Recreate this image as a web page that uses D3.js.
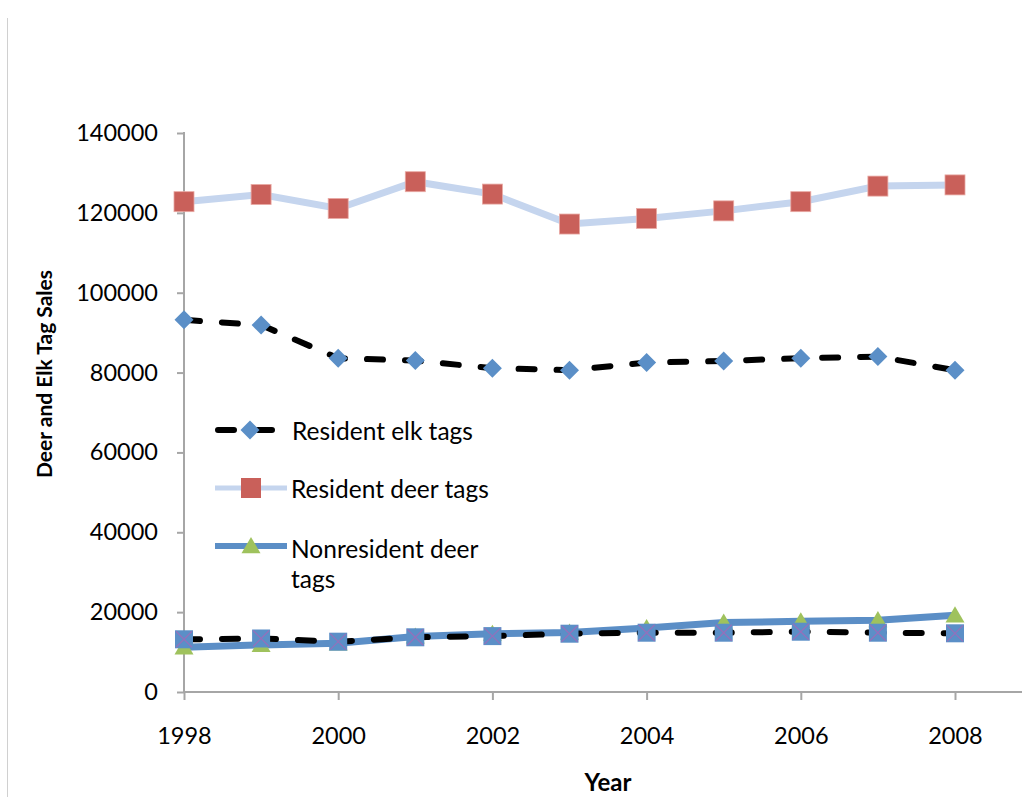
<!DOCTYPE html>
<html>
<head>
<meta charset="utf-8">
<script src="https://cdn.jsdelivr.net/npm/d3@7/dist/d3.min.js"></script>
<style>
  html, body { margin: 0; padding: 0; background: #fff; }
  svg { display: block; }
  text { font-family: Lato, "Open Sans", sans-serif; fill: #000; }
</style>
</head>
<body>
<svg id="chart" width="1022" height="797"></svg>
<script>
const years = [1998, 1999, 2000, 2001, 2002, 2003, 2004, 2005, 2006, 2007, 2008];
const residentElk  = [93200, 91900, 83600, 83000, 81100, 80600, 82500, 82900, 83600, 84000, 80600];
const residentDeer = [122800, 124600, 121100, 127800, 124700, 117200, 118600, 120500, 122800, 126700, 127000];
const nonresDeer   = [11200, 11800, 12200, 13900, 14600, 14900, 16000, 17400, 17700, 18000, 19200];
const nonresElk    = [13200, 13400, 12600, 13700, 14000, 14600, 14850, 14850, 15100, 14850, 14700];
const yTicks = [0, 20000, 40000, 60000, 80000, 100000, 120000, 140000];
const xTicks = [1998, 2000, 2002, 2004, 2006, 2008];
const legendLabels = ["Resident elk tags", "Resident deer tags", ["Nonresident deer", "tags"]];
const yTitle = "Deer and Elk Tag Sales";
const xTitle = "Year";

const svg = d3.select("#chart");
const W = 1022;
const x = d3.scaleLinear().domain([1998, 2008]).range([184, 955]);
const y = d3.scaleLinear().domain([0, 140000]).range([692, 133]);

// left border line of the frame
svg.append("line").attr("x1", 7.5).attr("x2", 7.5).attr("y1", 18).attr("y2", 797)
  .attr("stroke", "#d0d0d0").attr("stroke-width", 1);

const axisColor = "#a6a6a6";
const tickFont = 23.5;

// Y axis
const yAxis = svg.append("g").attr("transform", `translate(${x(1998)},0)`)
  .call(d3.axisLeft(y).tickValues(yTicks).tickSize(7).tickSizeOuter(0).tickPadding(19).tickFormat(d3.format("d")));
yAxis.select(".domain").remove();
yAxis.selectAll(".tick line").attr("stroke", axisColor).attr("stroke-width", 2);
yAxis.selectAll(".tick text").attr("font-size", tickFont).attr("font-family", "Lato, sans-serif");
svg.append("line").attr("x1", x(1998)).attr("x2", x(1998)).attr("y1", y(140000) - 1).attr("y2", y(0))
  .attr("stroke", axisColor).attr("stroke-width", 2);

// X axis
const xAxis = svg.append("g").attr("transform", `translate(0,${y(0)})`)
  .call(d3.axisBottom(x).tickValues(xTicks).tickSize(8).tickSizeOuter(0).tickPadding(27).tickFormat(d3.format("d")));
xAxis.select(".domain").remove();
xAxis.selectAll(".tick line").attr("stroke", axisColor).attr("stroke-width", 2);
xAxis.selectAll(".tick text").attr("font-size", tickFont).attr("font-family", "Lato, sans-serif");
svg.append("line").attr("x1", x(1998) - 1).attr("x2", W).attr("y1", y(0)).attr("y2", y(0))
  .attr("stroke", axisColor).attr("stroke-width", 2);

// Axis titles
svg.append("text").attr("transform", `translate(52,374) rotate(-90)`)
  .attr("text-anchor", "middle").attr("font-size", 21).attr("font-weight", "bold").text(yTitle);
svg.append("text").attr("x", 608).attr("y", 791)
  .attr("text-anchor", "middle").attr("font-size", 24).attr("font-weight", "bold").text(xTitle);

// Colors
const cBlueMarker = "#5b8fc7";
const cRed = "#c9605a";
const cLightBlue = "#c5d5ee";
const cBlueLine = "#5b8ec6";
const cGreen = "#9fc25d";
const cPurple = "#9570bb";

const line = d3.line().x((d, i) => x(years[i])).y(d => y(d));

const diamond = (s) => `M0,${-s}L${s},0L0,${s}L${-s},0Z`;
const tri = (s) => `M0,${-s * 0.95}L${s},${s * 0.75}L${-s},${s * 0.75}Z`;

// Series 1: resident elk
svg.append("path").datum(residentElk).attr("d", line).attr("fill", "none")
  .attr("stroke", "#000").attr("stroke-width", 6).attr("stroke-dasharray", "16,22").attr("stroke-linecap", "round");
svg.append("g").selectAll("path").data(residentElk).join("path")
  .attr("transform", (d, i) => `translate(${x(years[i])},${y(d)})`)
  .attr("d", diamond(9.5)).attr("fill", cBlueMarker);

// Series 2: resident deer
svg.append("path").datum(residentDeer).attr("d", line).attr("fill", "none")
  .attr("stroke", cLightBlue).attr("stroke-width", 7);
svg.append("g").selectAll("rect").data(residentDeer).join("rect")
  .attr("x", (d, i) => x(years[i]) - 10).attr("y", d => y(d) - 10)
  .attr("width", 20).attr("height", 20).attr("fill", cRed).attr("stroke", "#e9a9a3").attr("stroke-width", 0.8);

// Series 3: nonresident deer
svg.append("path").datum(nonresDeer).attr("d", line).attr("fill", "none")
  .attr("stroke", cBlueLine).attr("stroke-width", 7);
svg.append("g").selectAll("path").data(nonresDeer).join("path")
  .attr("transform", (d, i) => `translate(${x(years[i])},${y(d)})`)
  .attr("d", tri(9.5)).attr("fill", cGreen);

// Series 4: nonresident elk (unlabelled)
svg.append("path").datum(nonresElk).attr("d", line).attr("fill", "none")
  .attr("stroke", "#000").attr("stroke-width", 6).attr("stroke-dasharray", "16,22").attr("stroke-linecap", "round");
const g4 = svg.append("g").selectAll("g").data(nonresElk).join("g")
  .attr("transform", (d, i) => `translate(${x(years[i])},${y(d)})`);
g4.append("rect").attr("x", -9).attr("y", -9).attr("width", 18).attr("height", 18).attr("fill", cBlueMarker);
g4.append("path").attr("d", "M-8,-8L8,8M8,-8L-8,8").attr("stroke", cPurple).attr("stroke-width", 1.2);

// Legend
const lg = svg.append("g");
const legFont = 24.5;
// row 1
lg.append("line").attr("x1", 215).attr("x2", 272).attr("y1", 430).attr("y2", 430)
  .attr("stroke", "#000").attr("stroke-width", 6).attr("stroke-dasharray", "16,24").attr("stroke-linecap", "round")
  .attr("stroke-dashoffset", -3);
lg.append("path").attr("transform", "translate(250,430)").attr("d", diamond(9.5)).attr("fill", cBlueMarker);
lg.append("text").attr("x", 292).attr("y", 440).attr("font-size", legFont).text(legendLabels[0]);
// row 2
lg.append("line").attr("x1", 215).attr("x2", 287).attr("y1", 488).attr("y2", 488)
  .attr("stroke", cLightBlue).attr("stroke-width", 5);
lg.append("rect").attr("x", 241).attr("y", 478).attr("width", 20).attr("height", 20).attr("fill", cRed);
lg.append("text").attr("x", 291).attr("y", 498).attr("font-size", legFont).text(legendLabels[1]);
// row 3
lg.append("line").attr("x1", 215).attr("x2", 287).attr("y1", 546).attr("y2", 546)
  .attr("stroke", cBlueLine).attr("stroke-width", 6);
lg.append("path").attr("transform", "translate(251,546)").attr("d", tri(9.5)).attr("fill", cGreen);
lg.append("text").attr("x", 291).attr("y", 558).attr("font-size", legFont).text(legendLabels[2][0]);
lg.append("text").attr("x", 291).attr("y", 588).attr("font-size", legFont).text(legendLabels[2][1]);
</script>
</body>
</html>
